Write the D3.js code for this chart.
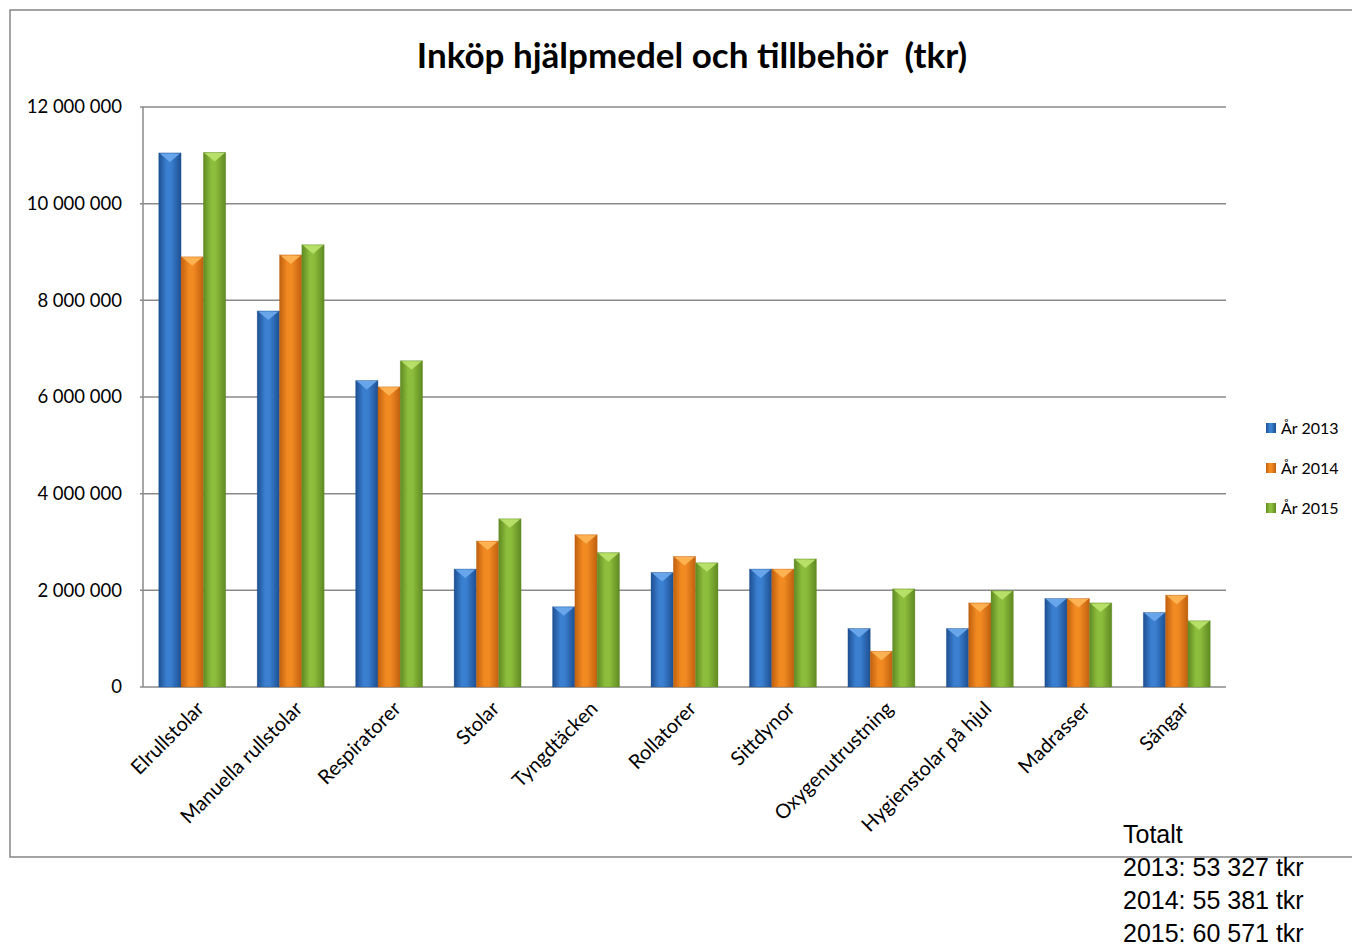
<!DOCTYPE html>
<html>
<head>
<meta charset="utf-8">
<script src="https://cdn.jsdelivr.net/npm/d3@7"></script>
<style>
  body { margin: 0; background: #fff; }
  svg { display: block; }
</style>
</head>
<body>
<div id="chart"></div>
<script>
// Chart values
const categories = ["Elrullstolar", "Manuella rullstolar", "Respiratorer", "Stolar", "Tyngdtäcken",
  "Rollatorer", "Sittdynor", "Oxygenutrustning", "Hygienstolar på hjul", "Madrasser", "Sängar"];
const seriesNames = ["År 2013", "År 2014", "År 2015"];
const values2013 = [11050000, 7780000, 6340000, 2440000, 1660000, 2370000, 2440000, 1210000, 1210000, 1830000, 1540000];
const values2014 = [8900000, 8940000, 6210000, 3020000, 3150000, 2700000, 2440000, 740000, 1740000, 1830000, 1900000];
const values2015 = [11060000, 9150000, 6750000, 3480000, 2780000, 2570000, 2650000, 2030000, 1990000, 1740000, 1370000];
const yTicks = [0, 2000000, 4000000, 6000000, 8000000, 10000000, 12000000];
const totalLines = ["Totalt", "2013: 53 327 tkr", "2014: 55 381 tkr", "2015: 60 571 tkr"];

const allSeries = [values2013, values2014, values2015];

// colours: [dark edge, mid, light]
const colors = [
  ["#1d4f91", "#3a7fd0", "#6aa8ec"],
  ["#c0600f", "#f28a22", "#ffb455"],
  ["#5f8a22", "#8dbd3c", "#b9e26a"]
];

const width = 1352, height = 947;
const plot = { left: 143, right: 1226, top: 107, bottom: 687 };

const svg = d3.select("#chart")
  .append("svg")
  .attr("width", width)
  .attr("height", height);

// gradients for the bars
const defs = svg.append("defs");
colors.forEach((c, i) => {
  const g = defs.append("linearGradient")
    .attr("id", "grad" + i)
    .attr("x1", "0%").attr("x2", "100%").attr("y1", "0%").attr("y2", "0%");
  g.append("stop").attr("offset", "0%").attr("stop-color", c[0]);
  g.append("stop").attr("offset", "35%").attr("stop-color", c[1]);
  g.append("stop").attr("offset", "55%").attr("stop-color", c[1]);
  g.append("stop").attr("offset", "100%").attr("stop-color", c[0]);
});

// outer frame
svg.append("rect")
  .attr("x", 10).attr("y", 10)
  .attr("width", 1400).attr("height", 847)
  .attr("fill", "none")
  .attr("stroke", "#868686")
  .attr("stroke-width", 1.5);

// title
svg.append("text")
  .attr("x", 692).attr("y", 68)
  .attr("text-anchor", "middle")
  .attr("font-family", "Lato, sans-serif")
  .attr("font-weight", "bold")
  .attr("font-size", 35)
  .style("white-space", "pre")
  .attr("fill", "#000")
  .text("Inköp hjälpmedel och tillbehör  (tkr)");

const xScale = d3.scaleBand()
  .domain(categories)
  .range([plot.left, plot.right])
  .paddingInner(0.32)
  .paddingOuter(0.16);

const xSub = d3.scaleBand()
  .domain(d3.range(3))
  .range([0, xScale.bandwidth()]);

const yScale = d3.scaleLinear()
  .domain([0, 12000000])
  .range([plot.bottom, plot.top]);

const locale = d3.formatLocale({ decimal: ",", thousands: " ", grouping: [3], currency: ["", ""] });
const fmt = locale.format(",");

// gridlines
svg.append("g")
  .selectAll("line")
  .data(yTicks)
  .join("line")
  .attr("x1", plot.left - 3)
  .attr("x2", plot.right)
  .attr("y1", d => yScale(d))
  .attr("y2", d => yScale(d))
  .attr("stroke", "#8a8a8a")
  .attr("stroke-width", 1.5);

// y axis line
svg.append("line")
  .attr("x1", plot.left).attr("x2", plot.left)
  .attr("y1", plot.top).attr("y2", plot.bottom)
  .attr("stroke", "#8a8a8a")
  .attr("stroke-width", 1.5);

// y tick labels
svg.append("g")
  .selectAll("text")
  .data(yTicks)
  .join("text")
  .attr("x", 122)
  .attr("y", d => yScale(d))
  .attr("dy", "0.35em")
  .attr("text-anchor", "end")
  .attr("font-family", "Lato, sans-serif")
  .attr("font-size", 18.5)
  .attr("fill", "#000")
  .text(d => fmt(d));

// bars
const groups = svg.append("g")
  .selectAll("g")
  .data(categories)
  .join("g")
  .attr("transform", d => `translate(${xScale(d)},0)`);

allSeries.forEach((vals, s) => {
  const bw = xSub.bandwidth();
  const bar = groups.append("g")
    .attr("transform", `translate(${xSub(s)},0)`);

  bar.append("rect")
    .attr("x", 0)
    .attr("y", (d, i) => yScale(vals[i]))
    .attr("width", bw)
    .attr("height", (d, i) => plot.bottom - yScale(vals[i]))
    .attr("fill", `url(#grad${s})`)
    .attr("stroke", colors[s][0])
    .attr("stroke-opacity", 0.4)
    .attr("stroke-width", 0.8);

  // bevel highlight at the top
  bar.append("path")
    .attr("d", (d, i) => {
      const y = yScale(vals[i]);
      return `M1,${y + 0.5} L${bw - 1},${y + 0.5} L${bw / 2},${y + 9} Z`;
    })
    .attr("fill", colors[s][2])
    .attr("opacity", 0.95);
});

// x category labels
svg.append("g")
  .selectAll("text")
  .data(categories)
  .join("text")
  .attr("transform", d => `translate(${xScale(d) + xScale.bandwidth() / 2 + 8},${plot.bottom + 18}) rotate(-45)`)
  .attr("text-anchor", "end")
  .attr("dy", "0.35em")
  .attr("font-family", "Lato, sans-serif")
  .attr("font-size", 20)
  .attr("fill", "#000")
  .text(d => d);

// legend
const legend = svg.append("g")
  .selectAll("g")
  .data(seriesNames)
  .join("g")
  .attr("transform", (d, i) => `translate(1266,${428 + i * 40})`);

legend.append("rect")
  .attr("x", 0).attr("y", -5)
  .attr("width", 10).attr("height", 10)
  .attr("fill", (d, i) => `url(#grad${i})`);

legend.append("text")
  .attr("x", 15)
  .attr("y", 0)
  .attr("dy", "0.35em")
  .attr("font-family", "Lato, sans-serif")
  .attr("font-size", 16)
  .attr("fill", "#000")
  .text(d => d);

// totals text box
svg.append("g")
  .selectAll("text")
  .data(totalLines)
  .join("text")
  .attr("x", 1123)
  .attr("y", (d, i) => 843 + i * 33)
  .attr("font-family", "'Liberation Sans', Arial, sans-serif")
  .attr("font-size", 25)
  .attr("fill", "#000")
  .text(d => d);
</script>
</body>
</html>
